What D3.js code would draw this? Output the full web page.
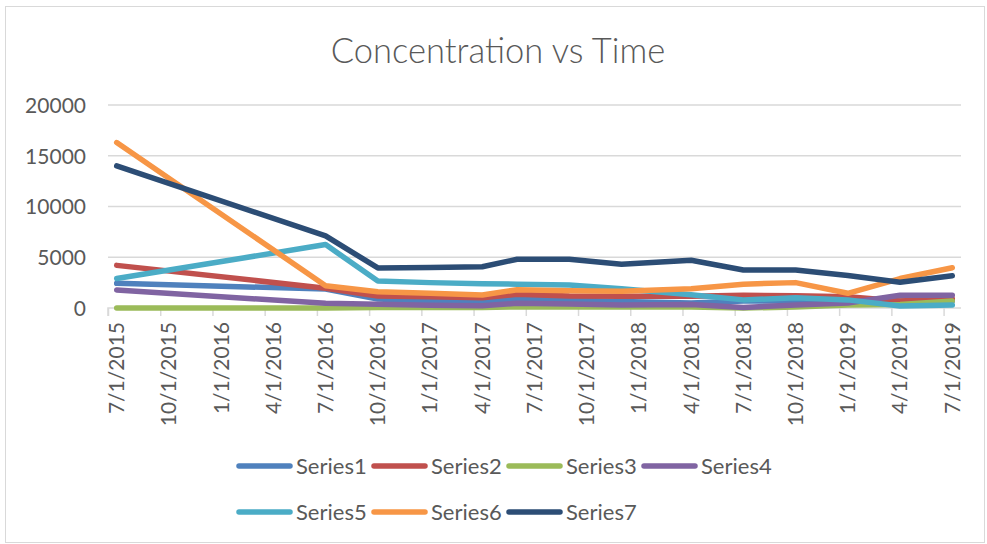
<!DOCTYPE html>
<html><head><meta charset="utf-8">
<script src="https://cdn.jsdelivr.net/npm/d3@7"></script>
<style>body{margin:0;background:#fff}svg{display:block}</style>
</head><body>
<svg id="chart" width="987" height="544"></svg>
<script>
// ---- data ----
const sampleDates = ["7/1/2015","7/1/2016","10/1/2016","1/1/2017","4/1/2017","6/1/2017","9/1/2017","12/1/2017","4/1/2018","7/1/2018","10/1/2018","1/1/2019","4/1/2019","7/1/2019"];
const seriesNames = ["Series1","Series2","Series3","Series4","Series5","Series6","Series7"];
const series1 = [2430,1870,880,700,600,900,800,650,500,700,700,600,700,700];
const series2 = [4200,1950,1180,1100,1020,1350,1180,1150,1150,1250,1200,1100,700,900];
const series3 = [0,0,50,50,50,100,100,100,100,0,100,300,350,700];
const series4 = [1770,460,360,280,230,460,400,300,350,50,300,500,1250,1250];
const series5 = [2900,6250,2650,2500,2380,2350,2270,1900,1300,800,1000,800,200,300];
const series6 = [16300,2200,1600,1450,1280,1800,1700,1650,1900,2350,2500,1450,2900,3970];
const series7 = [14000,7100,3950,4000,4070,4800,4800,4300,4700,3740,3740,3200,2530,3180];
const xTickLabels = ["7/1/2015","10/1/2015","1/1/2016","4/1/2016","7/1/2016","10/1/2016","1/1/2017","4/1/2017","7/1/2017","10/1/2017","1/1/2018","4/1/2018","7/1/2018","10/1/2018","1/1/2019","4/1/2019","7/1/2019"];
const yTickValues = [0,5000,10000,15000,20000];
const colors = ["#4F81BD","#C0504D","#9BBB59","#8064A2","#4BACC6","#F79646","#2C4D75"];
const allSeries = [series1,series2,series3,series4,series5,series6,series7];

// ---- helpers ----
function monthIndex(s){ const [m,d,y]=s.split("/").map(Number); return (y-2015)*12+(m-7); }

const svg = d3.select("#chart");
const font = "Lato, 'Open Sans', sans-serif";
const textColor = "#595959";

// chart border
svg.append("rect").attr("x",5.5).attr("y",6.5).attr("width",979).attr("height",536)
  .attr("fill","#fff").attr("stroke","#d9d9d9").attr("stroke-width",1);

const x = d3.scaleLinear().domain([0,49]).range([108,961]);
const y = d3.scaleLinear().domain([0,20000]).range([308,105]);

// gridlines
svg.append("g").selectAll("line").data(yTickValues.filter(v=>v>0)).join("line")
  .attr("x1",x(0)).attr("x2",x(49)).attr("y1",d=>y(d)).attr("y2",d=>y(d))
  .attr("stroke","#d9d9d9").attr("stroke-width",1.5);

// y axis labels
const yAxis = d3.axisLeft(y).tickValues(yTickValues).tickSize(0).tickPadding(0).tickFormat(d3.format("d"));
const gy = svg.append("g").attr("transform","translate(86,0)").call(yAxis);
gy.select(".domain").remove();
gy.selectAll("text").attr("fill",textColor).style("font-family",font).style("font-size","21px").attr("dy","0.35em");

// x axis
const tickIdx = xTickLabels.map(monthIndex);
const xAxis = d3.axisBottom(x).tickValues(tickIdx).tickSize(8).tickFormat("");
const gx = svg.append("g").attr("transform","translate(0,308)").call(xAxis);
gx.select(".domain").attr("stroke","#d9d9d9").attr("stroke-width",1.5).attr("d",`M${x(0)},8V0H${x(49)}`);
gx.selectAll(".tick line").attr("stroke","#d9d9d9").attr("stroke-width",1.5);
svg.append("g").selectAll("text").data(xTickLabels).join("text")
  .attr("transform",d=>`translate(${x(monthIndex(d)+0.5)},322) rotate(-90)`)
  .attr("text-anchor","end").attr("dy","0.35em")
  .attr("fill",textColor).style("font-family",font).style("font-size","21px")
  .text(d=>d);

// lines
const line = d3.line().x(d=>x(monthIndex(d.date)+0.5)).y(d=>y(d.v));
const plotG = svg.append("g");
allSeries.forEach((vals,i)=>{
  const pts = sampleDates.map((dt,j)=>({date:dt,v:vals[j]})).filter(p=>p.v!=null);
  plotG.append("path").datum(pts).attr("d",line)
    .attr("fill","none").attr("stroke",colors[i]).attr("stroke-width",5.5)
    .attr("stroke-linejoin","round").attr("stroke-linecap","round");
});

// title
svg.append("text").attr("x",498).attr("y",63).attr("text-anchor","middle")
  .attr("fill",textColor).style("font-family",font).style("font-weight","300").style("font-size","34.5px")
  .text("Concentration vs Time");

// legend
const legendPos = [[237,466],[372,466],[507,466],[642,466],[237,512],[372,512],[507,512]];
const lg = svg.append("g");
seriesNames.forEach((n,i)=>{
  const [lx,ly]=legendPos[i];
  lg.append("line").attr("x1",lx+2).attr("x2",lx+53).attr("y1",ly).attr("y2",ly)
    .attr("stroke",colors[i]).attr("stroke-width",5.5).attr("stroke-linecap","round");
  lg.append("text").attr("x",lx+59).attr("y",ly).attr("dy","0.35em")
    .attr("fill",textColor).style("font-family",font).style("font-size","22px").text(n);
});
</script>
</body></html>
